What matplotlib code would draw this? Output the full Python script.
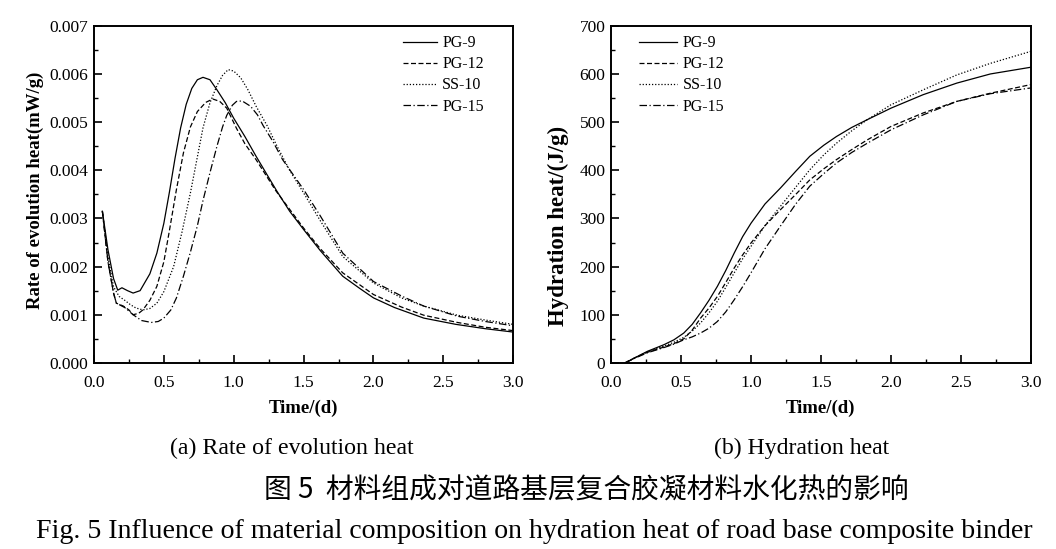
import matplotlib
matplotlib.use("Agg")
import matplotlib.pyplot as plt
from matplotlib.ticker import MultipleLocator, FormatStrFormatter

plt.rcParams["font.family"] = ["Liberation Serif", "Noto Sans CJK SC"]

series_names = ["PG-9", "PG-12", "SS-10", "PG-15"]
styles = ["-", (0, (4, 2)), (0, (1, 1.5)), (0, (6, 2, 1, 2))]

# (a) rate of evolution heat, mW/g
t_pg9 = [0.06, 0.10, 0.14, 0.17, 0.20, 0.24, 0.28, 0.33, 0.40, 0.45, 0.50, 0.54, 0.58, 0.62,
         0.66, 0.70, 0.74, 0.78, 0.83, 0.88, 0.94, 1.00, 1.08, 1.16, 1.24, 1.31, 1.40, 1.50,
         1.62, 1.78, 1.90, 2.00, 2.15, 2.36, 2.59, 2.80, 3.00]
r_pg9 = [0.00315, 0.00235, 0.00175, 0.00151, 0.00156, 0.00150, 0.00145, 0.00150, 0.00185,
         0.00228, 0.00290, 0.00355, 0.00425, 0.00488, 0.00537, 0.00570, 0.00588, 0.00593,
         0.00588, 0.00567, 0.00540, 0.00508, 0.00470, 0.00429, 0.00390, 0.00356, 0.00315,
         0.00277, 0.00233, 0.00180, 0.00155, 0.00135, 0.00115, 0.00093, 0.00080, 0.00071,
         0.00064]

t_pg12 = [0.06, 0.10, 0.14, 0.16, 0.21, 0.25, 0.28, 0.32, 0.35, 0.40, 0.45, 0.50, 0.54, 0.59,
          0.64, 0.69, 0.74, 0.80, 0.85, 0.90, 0.95, 1.02, 1.08, 1.16, 1.30, 1.50, 1.62, 1.78,
          2.00, 2.20, 2.36, 2.60, 2.80, 3.00]
r_pg12 = [0.00315, 0.00210, 0.00145, 0.00124, 0.00118, 0.00110, 0.00100, 0.00103, 0.00110,
          0.00130, 0.00159, 0.00210, 0.00275, 0.00360, 0.00436, 0.00490, 0.00522, 0.00541,
          0.00548, 0.00543, 0.00529, 0.00487, 0.00455, 0.00422, 0.00358, 0.00280, 0.00237,
          0.00187, 0.00142, 0.00116, 0.00099, 0.00084, 0.00074, 0.00067]

t_ss10 = [0.06, 0.10, 0.14, 0.18, 0.22, 0.26, 0.30, 0.35, 0.40, 0.45, 0.50, 0.57, 0.63, 0.69,
          0.74, 0.78, 0.83, 0.88, 0.92, 0.96, 1.00, 1.05, 1.10, 1.16, 1.24, 1.31, 1.40, 1.50,
          1.62, 1.78, 2.00, 2.20, 2.36, 2.60, 2.80, 3.00]
r_ss10 = [0.00315, 0.00220, 0.00158, 0.00138, 0.00130, 0.00121, 0.00114, 0.00110, 0.00113,
          0.00124, 0.00148, 0.00200, 0.00272, 0.00353, 0.00428, 0.00488, 0.00540, 0.00576,
          0.00597, 0.00609, 0.00606, 0.00592, 0.00568, 0.00533, 0.00492, 0.00450, 0.00400,
          0.00353, 0.00295, 0.00221, 0.00166, 0.00135, 0.00118, 0.00099, 0.00089, 0.00080]

t_pg15 = [0.06, 0.10, 0.14, 0.16, 0.22, 0.28, 0.34, 0.41, 0.46, 0.50, 0.55, 0.59, 0.64, 0.69,
          0.74, 0.78, 0.83, 0.88, 0.92, 0.95, 0.99, 1.02, 1.06, 1.12, 1.17, 1.21, 1.28, 1.35,
          1.50, 1.62, 1.78, 2.00, 2.20, 2.36, 2.60, 2.80, 3.00]
r_pg15 = [0.00315, 0.00210, 0.00145, 0.00124, 0.00115, 0.00100, 0.00088, 0.00084, 0.00086,
          0.00093, 0.00110, 0.00135, 0.00180, 0.00230, 0.00285, 0.00337, 0.00395, 0.00450,
          0.00490, 0.00514, 0.00535, 0.00543, 0.00544, 0.00533, 0.00515, 0.00493, 0.00460,
          0.00422, 0.00360, 0.00305, 0.00228, 0.00169, 0.00139, 0.00118, 0.00097, 0.00086,
          0.00077]

# (b) hydration heat, J/g
t_h = [0.10, 0.18, 0.26, 0.38, 0.45, 0.52, 0.58, 0.64, 0.70, 0.76, 0.82, 0.88, 0.94, 1.00,
       1.10, 1.21, 1.32, 1.42, 1.52, 1.61, 1.72, 1.83, 2.00, 2.23, 2.47, 2.71, 3.00]
h_pg9 = [0, 12, 24, 38, 48, 62, 80, 104, 130, 159, 192, 228, 262, 290, 330, 363, 398, 429,
         452, 470, 489, 505, 529, 557, 581, 600, 614]
h_pg12 = [0, 12, 22, 33, 40, 50, 68, 93, 114, 138, 167, 197, 224, 249, 285, 318, 350, 380,
          403, 422, 443, 463, 491, 519, 543, 560, 578]
h_ss10 = [0, 12, 23, 35, 43, 53, 66, 83, 104, 128, 157, 187, 216, 242, 285, 325, 365, 401,
          432, 456, 482, 505, 536, 567, 598, 622, 647]
h_pg15 = [0, 11, 21, 32, 39, 48, 54, 62, 72, 86, 106, 131, 158, 187, 237, 284, 330, 367,
          393, 415, 437, 456, 484, 515, 543, 559, 571]

fig = plt.figure(figsize=(10.56, 5.49), dpi=100)
ax1 = fig.add_axes([0.089, 0.339, 0.397, 0.614])
ax2 = fig.add_axes([0.5786, 0.339, 0.3977, 0.614])

rate_t = [t_pg9, t_pg12, t_ss10, t_pg15]
rate_v = [r_pg9, r_pg12, r_ss10, r_pg15]
for t, v, name, ls in zip(rate_t, rate_v, series_names, styles):
    ax1.plot(t, v, color="black", lw=0.9, linestyle=ls, label=name)

heat_v = [h_pg9, h_pg12, h_ss10, h_pg15]
for v, name, ls in zip(heat_v, series_names, styles):
    ax2.plot(t_h, v, color="black", lw=0.9, linestyle=ls, label=name)

ax1.set_xlim(0, 3.0)
ax1.set_ylim(0, 0.007)
ax1.yaxis.set_major_locator(MultipleLocator(0.001))
ax1.yaxis.set_minor_locator(MultipleLocator(0.0005))
ax1.yaxis.set_major_formatter(FormatStrFormatter("%.3f"))
ax1.set_ylabel("Rate of evolution heat(mW/g)", fontsize=13.5, fontweight="bold")
ax1.yaxis.set_label_coords(-0.120, 0.513)

ax2.set_xlim(0, 3.0)
ax2.set_ylim(0, 700)
ax2.yaxis.set_major_locator(MultipleLocator(100))
ax2.yaxis.set_minor_locator(MultipleLocator(50))
ax2.set_ylabel("Hydration heat/(J/g)", fontsize=16.5, fontweight="bold")
ax2.yaxis.set_label_coords(-0.100, 0.407)

for ax in (ax1, ax2):
    ax.xaxis.set_major_locator(MultipleLocator(0.5))
    ax.xaxis.set_minor_locator(MultipleLocator(0.25))
    ax.xaxis.set_major_formatter(FormatStrFormatter("%.1f"))
    ax.tick_params(which="both", direction="in", top=False, right=False, labelsize=12.5)
    ax.tick_params(which="major", length=6, width=1.2)
    ax.tick_params(which="minor", length=3, width=1.0)
    ax.tick_params(axis="x", which="major", pad=9)
    ax.tick_params(axis="y", which="major", pad=4)
    for sp in ax.spines.values():
        sp.set_linewidth(1.4)
    ax.set_xlabel("Time/(d)", fontsize=13.5, fontweight="bold", labelpad=6)

ax1.legend(loc="upper left", bbox_to_anchor=(0.722, 0.991), frameon=False, fontsize=11.5,
           handlelength=2.1, handletextpad=0.35, labelspacing=0.32, borderaxespad=0)
ax2.legend(loc="upper left", bbox_to_anchor=(0.051, 0.991), frameon=False, fontsize=11.5,
           handlelength=2.4, handletextpad=0.35, labelspacing=0.32, borderaxespad=0)

fig.text(0.276, 0.184, "(a) Rate of evolution heat", ha="center", va="center", fontsize=17.2)
fig.text(0.759, 0.184, "(b) Hydration heat", ha="center", va="center", fontsize=17.1)
fig.text(0.555, 0.1075, "图 5  材料组成对道路基层复合胶凝材料水化热的影响",
         ha="center", va="center", fontsize=20,
         family=["Noto Sans CJK SC", "Liberation Serif"])
fig.text(0.506, 0.031,
         "Fig. 5 Influence of material composition on hydration heat of road base composite binder",
         ha="center", va="center", fontsize=20.1)

fig.savefig("out.png", dpi=100)
